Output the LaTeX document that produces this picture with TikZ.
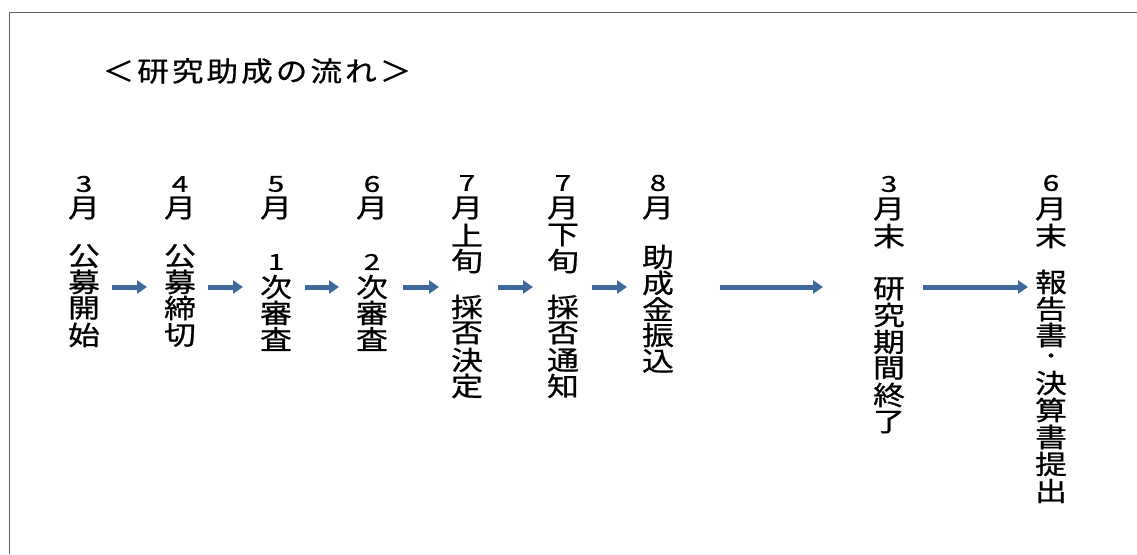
\documentclass[tikz,border=0pt]{standalone}
\usepackage{fontspec}
\setmainfont{Noto Sans CJK JP}
\newfontfamily\jpk[FakeStretch=1.2,FakeBold=0.8]{Noto Sans CJK JP}
\newfontfamily\jpd[FakeStretch=1.35,FakeBold=0.9]{Noto Sans CJK JP}
\newfontfamily\jpt[FakeStretch=1.15,LetterSpace=11,FakeBold=0.6]{Noto Sans CJK JP}
\usetikzlibrary{arrows.meta}
\definecolor{arrowblue}{RGB}{64,105,155}
\definecolor{framegray}{RGB}{95,95,95}
\tikzset{
  kj/.style={inner sep=0pt, text=black, font=\jpk\fontsize{26.5}{26.5}\selectfont},
  dg/.style={inner sep=0pt, text=black, font=\jpd\fontsize{22}{22}\selectfont},
  dotstyle/.style={inner sep=0pt, text=black, font=\jpk\fontsize{18}{18}\selectfont},
  titlestyle/.style={inner sep=0pt, text=black, font=\jpt\fontsize{27.5}{27.5}\selectfont},
  arr/.style={draw=arrowblue, line width=5pt, -{Triangle[length=10pt,width=13pt]}}
}
\begin{document}
\begin{tikzpicture}[x=1pt,y=-1pt]
\useasboundingbox (0,0) rectangle (1137,554);
\fill[white] (0,0) rectangle (1137,554);
% frame
\draw[framegray, line width=1pt] (9.5,554) -- (9.5,12.5);
\draw[framegray, line width=1.5pt] (9,12.5) -- (1137,12.5);
% title
\node[titlestyle] (title) at (257,71) {＜研究助成の流れ＞};
% columns
\foreach \t/\yy/\s [count=\i] in {3/184/dg,月/208/kj,公/256/kj,募/282/kj,開/308/kj,始/335/kj}
  \node[\s] (ca-\i) at (84,\yy) {\t};
\foreach \t/\yy/\s [count=\i] in {4/184/dg,月/208/kj,公/256/kj,募/282/kj,締/308/kj,切/335/kj}
  \node[\s] (cb-\i) at (180,\yy) {\t};
\foreach \t/\yy/\s [count=\i] in {5/184/dg,月/208/kj,1/262/dg,次/287/kj,審/313/kj,査/339/kj}
  \node[\s] (cc-\i) at (276,\yy) {\t};
\foreach \t/\yy/\s [count=\i] in {6/184/dg,月/208/kj,2/262/dg,次/287/kj,審/313/kj,査/339/kj}
  \node[\s] (cd-\i) at (372,\yy) {\t};
\foreach \t/\yy/\s [count=\i] in {7/183/dg,月/208/kj,上/235/kj,旬/261/kj,採/307/kj,否/333/kj,決/360/kj,定/386/kj}
  \node[\s] (ce-\i) at (467,\yy) {\t};
\foreach \t/\yy/\s [count=\i] in {7/183/dg,月/208/kj,下/235/kj,旬/261/kj,採/307/kj,否/333/kj,通/360/kj,知/386/kj}
  \node[\s] (cf-\i) at (563,\yy) {\t};
\foreach \t/\yy/\s [count=\i] in {8/183/dg,月/208/kj,助/257/kj,成/283/kj,金/309/kj,振/335/kj,込/361/kj}
  \node[\s] (cg-\i) at (658,\yy) {\t};
\foreach \t/\yy/\s [count=\i] in {3/184/dg,月/209/kj,末/236/kj,研/289/kj,究/315/kj,期/342/kj,間/368/kj,終/395/kj,了/422/kj}
  \node[\s] (ch-\i) at (889,\yy) {\t};
\foreach \t/\yy/\s [count=\i] in {6/183/dg,月/209/kj,末/236/kj,報/282/kj,告/309/kj,書/335/kj,・/358/dotstyle,決/383/kj,算/410/kj,書/437/kj,提/464/kj,出/491/kj}
  \node[\s] (ci-\i) at (1051,\yy) {\t};
% arrows
\coordinate (s1) at (112,287); \coordinate (e1) at (147,287);
\coordinate (s2) at (208,287); \coordinate (e2) at (243,287);
\coordinate (s3) at (305,287); \coordinate (e3) at (339,287);
\coordinate (s4) at (403,287); \coordinate (e4) at (439,287);
\coordinate (s5) at (498,287); \coordinate (e5) at (533,287);
\coordinate (s6) at (592,287); \coordinate (e6) at (627,287);
\coordinate (s7) at (720,287); \coordinate (e7) at (823,287);
\coordinate (s8) at (923,287); \coordinate (e8) at (1028,287);
\foreach \k in {1,...,8} \draw[arr] (s\k) -- (e\k);
\end{tikzpicture}
\end{document}
